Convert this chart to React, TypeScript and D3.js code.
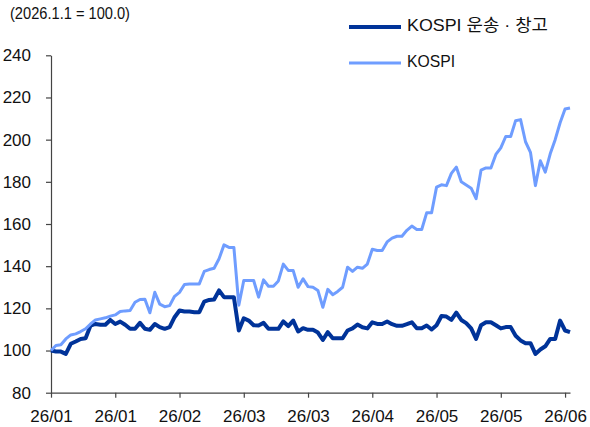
import React, { useEffect, useRef } from 'react';
import * as d3 from 'd3';

const title = '(2026.1.1 = 100.0)';
const seriesNames = ['KOSPI 운송 · 창고', 'KOSPI'];
const tickLabels = ['26/01', '26/01', '26/02', '26/03', '26/03', '26/04', '26/05', '26/05', '26/06'];
const tickStep = 13;
const yTicks = [80, 100, 120, 140, 160, 180, 200, 220, 240];

// KOSPI 운송·창고 index (2026.1.1 = 100)
const transport = [
  100, 99.5, 99.5, 98.4, 103.2, 104.3, 105.5, 105.8, 111.8, 112.6,
  112.2, 112.2, 114.5, 112.6, 113.7, 112.2, 110.3, 110.3, 113.1, 110.3,
  109.8, 112.6, 111.1, 110.3, 111.1, 115.8, 119, 118.5, 118.5, 118.2,
  118.2, 123.2, 124, 124.2, 128.5, 125.3, 125.3, 125.3, 109.5, 115.3,
  114.2, 112, 111.9, 113.1, 110.3, 110.3, 110.3, 113.8, 111.6, 114.2,
  109, 110.6, 109.8, 109.8, 108.5, 105, 108.7, 105.8, 105.8, 105.8,
  109.5, 110.5, 112.3, 111, 110.5, 113.4, 112.6, 112.6, 113.8, 112.5,
  111.7, 111.7, 112.5, 113.4, 110.6, 110.6, 111.9, 110, 112, 116.4,
  116.1, 114.5, 118, 114.5, 113, 110.5, 105.5, 112, 113.4, 113.4,
  112, 110.5, 111.1, 111.1, 107, 104.8, 103.5, 103.5, 98.4, 100.5,
  102, 105.5, 105.5, 114.2, 109.5, 108.7,
];

// KOSPI index (2026.1.1 = 100)
const kospi = [
  100, 102.4, 102.7, 105.5, 107.4, 107.9, 109, 110.3, 112.6, 114.5,
  115, 115.5, 116.3, 116.9, 118.5, 118.8, 119, 122.9, 124.2, 124.3,
  117.9, 127.6, 122, 120.8, 121.3, 125.7, 127.6, 131.3, 131.6, 131.6,
  131.6, 137.5, 138.4, 139, 143.5, 150.1, 148.9, 148.9, 121.5, 133.2,
  133.2, 133.2, 125.3, 133.5, 130.5, 130.5, 133, 141, 138, 137.9,
  130, 134, 130.3, 130, 128.5, 120.5, 129, 126.5, 128, 130,
  139.5, 137.5, 139.5, 139, 141, 148, 147.4, 147.4, 151.5, 153.3,
  154.2, 154.2, 157, 159, 157.4, 157.4, 165.3, 165.3, 177.5, 178.6,
  178.2, 184, 187, 180, 178.5, 177, 172, 185.5, 186.6, 186.6,
  193, 196.1, 201.5, 201.5, 209, 209.5, 199, 194, 178.2, 190,
  184.6, 193.3, 200, 208, 214.5, 215,
];

const FONT = '"Liberation Sans Narrow", "Liberation Sans", "Noto Sans CJK KR", sans-serif';

export default function App() {
  const ref = useRef<SVGSVGElement | null>(null);

  useEffect(() => {
    if (!ref.current) return;
    const svg = d3.select(ref.current);
    svg.selectAll('*').remove();

    const x = d3.scaleLinear().domain([0, kospi.length - 1]).range([51, 570]);
    const y = d3.scaleLinear().domain([80, 240]).range([392.7, 55.3]);

    // Y axis
    const gy = svg.append('g')
      .attr('transform', `translate(${x(0)},0)`)
      .call(d3.axisLeft(y).tickValues(yTicks).tickSize(5).tickSizeOuter(0).tickPadding(15));
    // X axis
    const xTickVals = tickLabels.map((_, i) => i * tickStep);
    const gx = svg.append('g')
      .attr('transform', `translate(0,${y(80)})`)
      .call(d3.axisBottom(x).tickValues(xTickVals).tickFormat((_, i) => tickLabels[i])
        .tickSize(5).tickSizeOuter(0).tickPadding(12));

    [gx, gy].forEach(g => {
      g.select('.domain').attr('stroke', '#444').attr('stroke-width', 1.2);
      g.selectAll('.tick line').attr('stroke', '#444').attr('stroke-width', 1.2);
      g.selectAll('.tick text')
        .attr('fill', '#111')
        .style('font-family', FONT)
        .style('font-size', '17px');
    });

    const line = d3.line<number>()
      .x((_, i) => x(i))
      .y(d => y(d));

    svg.append('path')
      .datum(transport)
      .attr('fill', 'none')
      .attr('stroke', '#003399')
      .attr('stroke-width', 4)
      .attr('stroke-linejoin', 'round')
      .attr('d', line);

    svg.append('path')
      .datum(kospi)
      .attr('fill', 'none')
      .attr('stroke', '#6f9dff')
      .attr('stroke-width', 3)
      .attr('stroke-linejoin', 'round')
      .attr('d', line);

    // Title
    svg.append('text')
      .attr('x', 10)
      .attr('y', 15)
      .attr('dominant-baseline', 'middle')
      .attr('fill', '#111')
      .attr('textLength', 120)
      .attr('lengthAdjust', 'spacingAndGlyphs')
      .style('font-family', FONT)
      .style('font-size', '17px')
      .text(title);

    // Legend
    const colors = ['#003399', '#6f9dff'];
    const widths = [4, 3];
    const legendLen = [141, 48];
    seriesNames.forEach((name, i) => {
      const ly = 27 + i * 36;
      svg.append('line')
        .attr('x1', 349).attr('x2', 401)
        .attr('y1', ly).attr('y2', ly)
        .attr('stroke', colors[i])
        .attr('stroke-width', widths[i]);
      svg.append('text')
        .attr('x', 407)
        .attr('y', ly)
        .attr('dominant-baseline', 'middle')
        .attr('fill', '#111')
        .attr('textLength', legendLen[i])
        .attr('lengthAdjust', 'spacingAndGlyphs')
        .style('font-family', FONT)
        .style('font-size', '17px')
        .text(name);
    });
  }, []);

  return (
    <svg
      ref={ref}
      width={590}
      height={427}
      style={{ position: 'absolute', left: 0, top: 0, background: '#fff' }}
    />
  );
}
